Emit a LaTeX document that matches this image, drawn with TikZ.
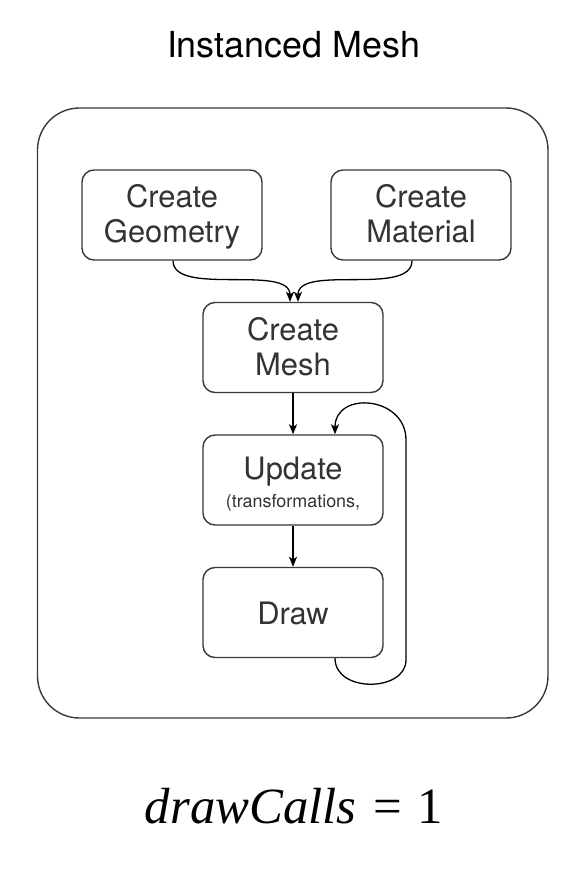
\documentclass[tikz,border=0pt]{standalone}
\usepackage{fontspec}
\setmainfont{TeX Gyre Heros}
\newfontfamily\tms{Liberation Serif}
\usetikzlibrary{arrows.meta}
\definecolor{boxline}{HTML}{3A3A3A}
\definecolor{txt}{HTML}{333333}
\begin{document}
\begin{tikzpicture}[x=1bp,y=-1bp,
  box/.style={draw=boxline, line width=1.4bp, rounded corners=12bp, minimum width=180bp, minimum height=90bp, inner sep=0pt},
  lbl/.style={text=txt, font=\fontsize{31}{35}\selectfont, inner sep=0pt, anchor=base},
  small/.style={text=txt, font=\fontsize{18}{22}\selectfont, inner sep=0pt, anchor=base},
  conn/.style={draw=black, line width=1.3bp, -{Stealth[length=10bp,width=8bp,inset=2.5bp]}}]
\useasboundingbox[fill=white] (0,0) rectangle (586,878);
\node[font=\fontsize{36}{40}\selectfont, anchor=base, inner sep=0pt] (title) at (293.5,57) {Instanced Mesh};
\node[draw=boxline, line width=1.4bp, rounded corners=42bp, minimum width=510.5bp, minimum height=610bp, inner sep=0pt] (frame) at (292.75,413) {};
% boxes
\node[box] (geo) at (172,215) {};
\node[box] (mat) at (421,215) {};
\node[box] (mesh) at (293,347.5) {};
\node[box] (upd) at (293,480) {};
\node[box] (drw) at (293,612.5) {};
% labels
\node[lbl] (geo1) at (172,207) {Create};
\node[lbl] (geo2) at (172,242) {Geometry};
\node[lbl] (mat1) at (421,207) {Create};
\node[lbl] (mat2) at (421,242) {Material};
\node[lbl] (mesh1) at (293,340) {Create};
\node[lbl] (mesh2) at (293,375) {Mesh};
\node[lbl] (upd1) at (293,479) {Update};
\node[small] (upd2) at (293,507) {(transformations,};
\node[lbl] (drw1) at (293,624) {Draw};
% connectors
\draw[conn] ([xshift=1bp]geo.south) .. controls +(0,36) and +(0,-38) .. ([xshift=-3bp]mesh.north);
\draw[conn] ([xshift=-9bp]mat.south) .. controls +(0,36) and +(0,-38) .. ([xshift=5bp]mesh.north);
\draw[conn] (mesh.south) -- (upd.north);
\draw[conn] (upd.south) -- (drw.north);
\coordinate (rb) at (406,660);
\coordinate (rt) at (406,440);
\draw[conn] ([xshift=42bp]drw.south) .. controls +(0,35) and +(0,32) .. (rb) -- (rt) .. controls +(0,-44) and +(0,-44) .. ([xshift=42bp]upd.north);
% formula
\node[anchor=base, inner sep=0pt, font=\tms\fontsize{51}{56}\selectfont] (calls) at (294,823) {\itshape drawCalls\upshape\hspace{4bp} = \hspace{3bp}1};
\end{tikzpicture}
\end{document}
